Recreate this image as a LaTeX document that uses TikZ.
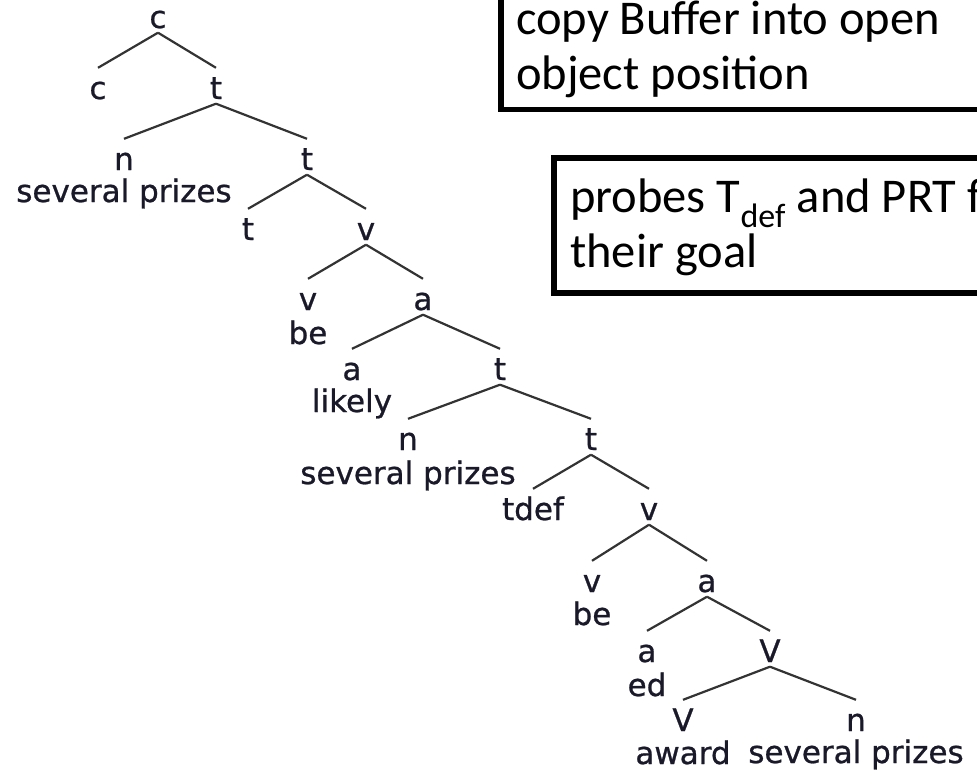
\documentclass[tikz,border=0pt]{standalone}
\usepackage{fontspec}
\setmainfont{Carlito}
\newfontfamily\treefont[FakeBold=0.8]{DejaVu Sans}
\definecolor{treeink}{rgb}{0.10,0.10,0.16}
\definecolor{branch}{rgb}{0.20,0.20,0.20}
\begin{document}
\begin{tikzpicture}[x=1pt,y=-1pt,
  cat/.style={font=\treefont\fontsize{31}{31}\selectfont, text=treeink,
    inner sep=0pt, anchor=base, text height=31pt, text depth=4.5pt},
  word/.style={font=\treefont\fontsize{31}{31}\selectfont, text=treeink,
    inner sep=0pt, anchor=base},
  edge/.style={draw=branch, line width=2.2pt},
  panel/.style={draw=black, line width=5.5pt, fill=white, inner sep=0pt},
  note/.style={font=\fontsize{48.5}{55}\selectfont, inner sep=0pt, anchor=base west}]
\useasboundingbox (0,0) rectangle (977,774);
\clip (0,0) rectangle (977,774);

% explanatory boxes (running off the top and right edges)
\node[panel, minimum width=600pt, minimum height=150pt, anchor=south west] (box1) at (498,112) {};
\node[note] (b1a) at (516,34) {copy Buffer into open};
\node[note] (b1b) at (516,89) {object position};

\node[panel, minimum width=600pt, minimum height=135pt, anchor=north west] (box2) at (551,155) {};
\node[note] (b2a) at (570,212) {probes T\textsubscript{def} and PRT for};
\node[note] (b2b) at (570,267) {their goal};

% tree nodes
\node[cat] (c0) at (158,28) {c};
\node[cat] (c1) at (98,99) {c};
\node[cat] (t1) at (216,99) {t};
\node[cat] (n1) at (124,170) {n};
\node[word] (w1) at (124,202) {several prizes};
\node[cat] (t2) at (307,170) {t};
\node[cat] (t3) at (248,240) {t};
\node[cat] (v1) at (366,240) {v};
\node[cat] (v2) at (308,310) {v};
\node[word] (w2) at (308,344) {be};
\node[cat] (a1) at (423,310) {a};
\node[cat] (a2) at (352,380) {a};
\node[word] (w3) at (352,412) {likely};
\node[cat] (t4) at (500,380) {t};
\node[cat] (n2) at (408,450) {n};
\node[word] (w4) at (408,484) {several prizes};
\node[cat] (t5) at (591,450) {t};
\node[cat] (td) at (533,520) {tdef};
\node[cat] (v3) at (649,520) {v};
\node[cat] (v4) at (592,592) {v};
\node[word] (w5) at (592,625) {be};
\node[cat] (a3) at (707,592) {a};
\node[cat] (a4) at (647,662) {a};
\node[word] (w6) at (647,696) {ed};
\node[cat] (V1) at (770,662) {V};
\node[cat] (V2) at (683,731) {V};
\node[word] (w7) at (683,764) {award};
\node[cat] (n3) at (856,731) {n};
\node[word] (w8) at (856,763) {several prizes};

% branches
\draw[edge] (c0.south) -- (c1.north);
\draw[edge] (c0.south) -- (t1.north);
\draw[edge] (t1.south) -- (n1.north);
\draw[edge] (t1.south) -- (t2.north);
\draw[edge] (t2.south) -- (t3.north);
\draw[edge] (t2.south) -- (v1.north);
\draw[edge] (v1.south) -- (v2.north);
\draw[edge] (v1.south) -- (a1.north);
\draw[edge] (a1.south) -- (a2.north);
\draw[edge] (a1.south) -- (t4.north);
\draw[edge] (t4.south) -- (n2.north);
\draw[edge] (t4.south) -- (t5.north);
\draw[edge] (t5.south) -- (td.north);
\draw[edge] (t5.south) -- (v3.north);
\draw[edge] (v3.south) -- (v4.north);
\draw[edge] (v3.south) -- (a3.north);
\draw[edge] (a3.south) -- (a4.north);
\draw[edge] (a3.south) -- (V1.north);
\draw[edge] (V1.south) -- (V2.north);
\draw[edge] (V1.south) -- (n3.north);
\end{tikzpicture}
\end{document}
